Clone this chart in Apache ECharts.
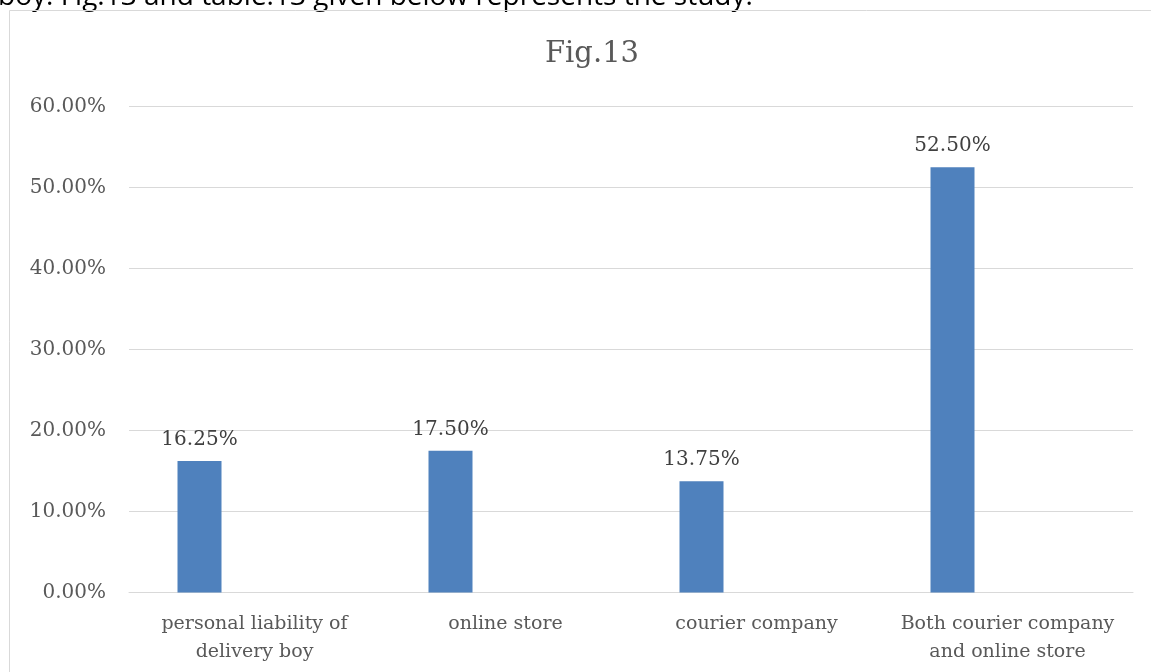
<!DOCTYPE html>
<html>
<head>
<meta charset="utf-8">
<title>Fig.13</title>
<script src="https://cdn.jsdelivr.net/npm/echarts@6/dist/echarts.min.js"></script>
<style>
  html, body { margin: 0; padding: 0; background: #ffffff; }
  #chart { width: 1151px; height: 672px; }
</style>
</head>
<body>
<div id="chart"></div>
<script>
// Who is held responsible for a lost or damaged delivery (share of respondents, %)
const categories = [
  'personal liability of\ndelivery boy',
  'online store',
  'courier company',
  'Both courier company\nand online store'
];
const shares = [16.25, 17.5, 13.75, 52.5];
// Empty companion series keeps the bars left of each category centre, as in a clustered column chart
const companion = [null, null, null, null];
const yTicks = { min: 0, max: 60, interval: 10 };
const titleText = 'Fig.13';
const leadText = 'boy. Fig.13 and table.13 given below represents the study.';

const serif = '"DejaVu Serif", "Liberation Serif", serif';
const chart = echarts.init(document.getElementById('chart'), null, { renderer: 'canvas' });

chart.setOption({
  backgroundColor: '#ffffff',
  animation: false,
  title: {
    text: titleText,
    left: 587,
    top: 35,
    textAlign: 'center',
    textStyle: { fontFamily: serif, fontSize: 29, fontWeight: 'normal', color: '#595959' }
  },
  graphic: [
    {
      type: 'rect',
      shape: { x: 9.5, y: 10.5, width: 1400, height: 900 },
      style: { fill: 'none', stroke: '#d9d9d9', lineWidth: 1 },
      silent: true
    },
    {
      type: 'text',
      x: -2,
      y: 11,
      z: -1,
      style: {
        text: leadText,
        font: '28px "Open Sans", "Liberation Sans", sans-serif',
        fill: '#000000',
        verticalAlign: 'bottom'
      },
      silent: true
    }
  ],
  grid: { left: 129, right: 18, top: 106.5, bottom: 79.5, containLabel: false },
  xAxis: {
    type: 'category',
    data: categories,
    axisLine: { show: true, lineStyle: { color: '#d9d9d9', width: 1 } },
    axisTick: { show: false },
    axisLabel: {
      interval: 0,
      margin: 18,
      fontFamily: serif,
      fontSize: 19,
      lineHeight: 28,
      color: '#595959'
    }
  },
  yAxis: {
    type: 'value',
    min: yTicks.min,
    max: yTicks.max,
    interval: yTicks.interval,
    axisLine: { show: false },
    axisTick: { show: false },
    splitLine: { lineStyle: { color: '#d9d9d9', width: 1 } },
    axisLabel: {
      margin: 23,
      fontFamily: serif,
      fontSize: 20,
      color: '#595959',
      formatter: v => v.toFixed(2) + '%'
    }
  },
  series: [
    {
      type: 'bar',
      data: shares,
      barWidth: 44,
      barGap: '150%',
      itemStyle: { color: '#4f81bd' },
      label: {
        show: true,
        position: 'top',
        distance: 11,
        fontFamily: serif,
        fontSize: 20,
        color: '#404040',
        formatter: p => p.value.toFixed(2) + '%'
      }
    },
    {
      type: 'bar',
      data: companion,
      barWidth: 44,
      barGap: '150%',
      itemStyle: { color: '#c0504d' }
    }
  ]
});
</script>
</body>
</html>
